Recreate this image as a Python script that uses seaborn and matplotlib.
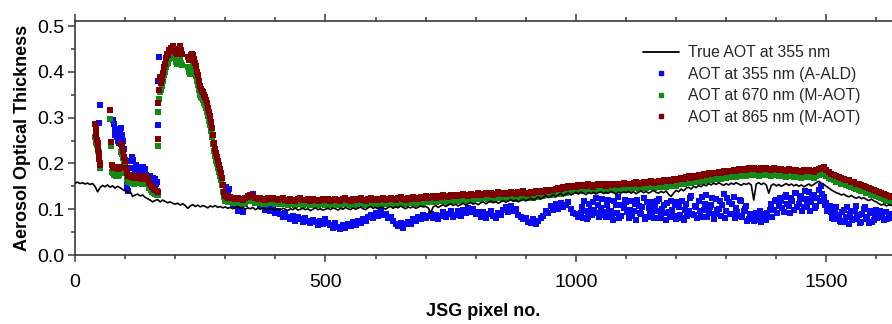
import numpy as np
import matplotlib
matplotlib.use("Agg")
import matplotlib.pyplot as plt
import seaborn as sns
from matplotlib.lines import Line2D
from matplotlib.ticker import MultipleLocator

sns.set_theme(style="ticks")
plt.rcParams["font.family"] = ["Liberation Sans", "DejaVu Sans"]

# ---------------------------------------------------------------
# True AOT at 355 nm (every 5th JSG pixel, values x1000)
# ---------------------------------------------------------------
true_x = np.arange(0, 1631, 5)
true_aot = [
    157, 159, 156, 158, 155, 157, 154, 156, 150, 138, 147, 152, 149, 153, 148, 151, 146, 150, 147, 143,
    140, 137, 139, 128, 131, 133, 129, 131, 126, 123, 120, 116, 119, 121, 116, 120, 117, 114, 116, 113,
    111, 113, 109, 112, 108, 102, 107, 110, 106, 109, 105, 108, 106, 103, 107, 105, 108, 104, 106, 103,
    105, 102, 104, 101, 103, 106, 102, 104, 100, 103, 101, 104, 99, 102, 100, 103, 101, 98, 102, 100,
    99, 101, 98, 102, 100, 97, 101, 99, 103, 98, 100, 102, 99, 101, 97, 100, 103, 99, 101, 98,
    100, 102, 99, 103, 101, 98, 102, 100, 104, 101, 99, 103, 100, 102, 105, 101, 99, 103, 106, 102,
    104, 101, 105, 103, 100, 104, 106, 102, 105, 103, 107, 104, 101, 105, 103, 106, 102, 104, 107, 105,
    106, 103, 92, 105, 108, 104, 107, 110, 106, 109, 112, 108, 111, 107, 110, 113, 109, 112, 115, 111,
    113, 110, 114, 116, 112, 115, 118, 114, 117, 113, 116, 119, 115, 118, 121, 117, 120, 116, 119, 122,
    118, 121, 124, 120, 123, 127, 122, 126, 130, 125, 128, 132, 127, 131, 135, 129, 133, 136, 131, 134,
    137, 133, 138, 135, 132, 136, 134, 137, 133, 136, 138, 134, 137, 135, 139, 136, 133, 137, 135, 138,
    136, 139, 135, 138, 134, 137, 140, 136, 139, 135, 138, 141, 137, 135, 139, 136, 140, 132, 128, 135,
    141, 138, 144, 140, 146, 148, 144, 150, 147, 152, 149, 154, 151, 156, 153, 157, 154, 158, 155, 152,
    156, 153, 157, 154, 158, 155, 152, 156, 154, 157, 153, 120, 155, 158, 154, 157, 153, 135, 152, 155,
    151, 154, 150, 153, 156, 152, 155, 151, 154, 150, 153, 149, 152, 155, 151, 154, 158, 161, 157, 154,
    150, 146, 142, 139, 136, 134, 131, 133, 129, 127, 130, 126, 124, 127, 123, 125, 121, 119, 122, 118,
    116, 112, 109, 111, 107, 110, 108,
]

# ---------------------------------------------------------------
# Plume section (pixels < 310), irregular sampling
# ---------------------------------------------------------------
ald_early_x = [
    48, 49,
    76, 78, 79, 80, 82, 83, 84, 86, 87, 88, 90, 91, 92, 94, 95, 97, 99, 100,
    101, 103, 104, 106, 108, 110, 113, 116, 118, 120, 122, 124, 126, 128, 130, 132, 134, 136, 138, 140,
    142, 144, 147, 150, 153, 156, 158, 160, 162, 164,
    165, 166, 167,
    301, 303, 305, 307, 309,
]
ald_early = [
    288, 327,
    295, 285, 272, 262, 275, 258, 268, 250, 262, 245, 270, 255, 278, 262, 248, 232, 207, 195,
    182, 160, 148, 140, 190, 205, 214, 207, 190, 184, 196, 180, 188, 193, 178, 190, 185, 192, 180, 187,
    175, 170, 165, 172, 160, 168, 158, 165, 155, 160,
    284, 381, 433,
    149, 142, 131, 145, 124,
]

mod_early_x = [
    40, 41, 42, 43, 45, 46, 47, 48, 49, 50,
    70, 72, 73, 75, 77, 79, 81, 83, 85, 87, 89, 91, 93, 95, 97, 99, 101, 103,
    106, 109, 112, 115, 118, 121, 124, 127, 130, 133, 136, 139, 142, 145, 148, 151, 154, 157, 160, 163, 166,
    165, 166, 168, 170, 172, 174, 176, 178, 180, 182, 184, 186, 188, 190, 192, 195, 198, 201, 204, 207,
    210, 212, 214,
    226, 228, 230, 232, 234, 236, 238, 240, 242, 244, 246, 248, 250, 252, 254, 256, 258, 260, 262, 264,
    266, 268, 270, 272, 274, 276, 278, 280, 282, 284, 286, 288, 290, 292, 294, 296, 298, 300, 303, 306,
]
aot865_early = [
    287, 275, 262, 251, 244, 232, 220, 210, 200, 196,
    316, 247, 196, 193, 190, 192, 189, 191, 188, 190, 192, 243, 238, 228, 215, 205, 190, 178,
    172, 175, 170, 173, 168, 172, 169, 173, 170, 167, 171, 168, 172, 166, 158, 152, 148, 145, 142, 140, 138,
    253, 331, 360, 389, 375, 385, 398, 410, 418, 430, 440, 437, 448, 445, 452, 457, 450, 442, 438, 445,
    457, 448, 440,
    433, 425, 430, 437, 440, 436, 428, 420, 412, 400, 393, 380, 368, 363, 358, 355, 350, 345, 338, 332,
    322, 312, 303, 290, 278, 262, 245, 232, 222, 213, 205, 196, 188, 180, 168, 152, 138, 128, 127, 124,
]
aot670_early = [
    258, 250, 245, 240, 236, 228, 226, 212, 198, 191,
    298, 237, 182, 178, 175, 177, 173, 176, 172, 175, 178, 225, 220, 212, 200, 190, 178, 165,
    160, 162, 158, 161, 156, 159, 157, 160, 158, 155, 159, 156, 159, 154, 147, 142, 138, 135, 133, 131, 130,
    239, 313, 340, 355, 360, 368, 380, 392, 400, 410, 418, 420, 428, 430, 435, 438, 432, 422, 418, 425,
    432, 420, 415,
    410, 400, 396, 400, 410, 412, 405, 398, 390, 380, 372, 360, 350, 346, 342, 338, 333, 328, 320, 313,
    303, 293, 283, 270, 258, 243, 228, 216, 206, 198, 190, 181, 173, 164, 152, 138, 126, 119, 118, 116,
]

# ---------------------------------------------------------------
# Background section (pixels 310 .. 1630, every 5th pixel)
# ---------------------------------------------------------------
bg_x = np.arange(310, 1631, 5)
ald_bg = [
    122, 110, 106, 96, 99, 93, 112, 128, 120, 134, 124, 117, 108, 111, 98, 105, 96, 100, 91, 95,
    89, 82, 91, 84, 78, 86, 75, 83, 79, 72, 80, 74, 69, 77, 71, 66, 74, 68, 78, 70,
    66, 60, 69, 62, 57, 65, 60, 67, 63, 71, 66, 75, 70, 79, 74, 83, 87, 81, 92, 86,
    95, 87, 90, 80, 84, 74, 68, 63, 70, 60, 67, 73, 68, 79, 75, 84, 78, 88, 80, 86,
    90, 81, 88, 79, 86, 93, 82, 90, 95, 84, 88, 97, 85, 99, 91, 103, 94, 100, 89, 93,
    84, 93, 81, 90, 96, 85, 80, 91, 88, 99, 104, 93, 106, 96, 100, 88, 84, 79, 81, 72,
    70, 78, 67, 75, 81, 86, 95, 92, 106, 98, 111, 101, 114, 104, 110, 116, 100, 92, 89, 82,
    92, 80, 95, 84, 99, 115, 124, 110, 103, 94, 83, 120, 96, 77, 109, 126, 86, 103, 116, 80,
    119, 95, 77, 108, 90, 125, 84, 102, 116, 80, 97, 122, 89, 110, 76, 94, 118, 85, 79, 104,
    81, 77, 112, 96, 128, 88, 104, 119, 83, 99, 131, 92, 110, 78, 123, 101, 86, 134, 97, 115,
    90, 126, 103, 85, 117, 96, 108, 79, 87, 75, 92, 81, 73, 89, 77, 84, 112, 98, 121, 106,
    118, 94, 130, 107, 125, 99, 136, 112, 128, 104, 122, 138, 115, 131, 108, 142, 150, 127, 113, 98,
    93, 78, 104, 86, 71, 98, 82, 67, 95, 79, 108, 88, 73, 101, 84, 70, 92, 77, 99, 83,
    89, 76, 94, 81, 87,
]
# the A-ALD cloud east of pixel 1010 has twice the retrieval density
ald_dense_x = np.arange(1012, 1628, 5)
ald_dense = [
    104, 117, 79, 112, 87, 98, 92, 83, 122, 88, 110, 96, 84, 117, 91, 80, 109, 120, 94, 99,
    86, 112, 121, 91, 104, 79, 116, 93, 84, 108, 118, 81, 101, 91, 113, 83, 98, 109, 115, 88,
    117, 99, 86, 125, 90, 107, 80, 96, 127, 112, 84, 104, 124, 89, 98, 118, 109, 81, 124, 90,
    111, 81, 94, 120, 83, 101, 74, 90, 80, 86, 77, 95, 84, 76, 92, 99, 82, 118, 91, 124,
    103, 127, 111, 92, 117, 135, 104, 123, 97, 140, 110, 95, 129, 102, 125, 118, 133, 109, 96, 106,
    80, 101, 87, 75, 94, 72, 105, 89, 76, 97, 83, 70, 90, 104, 78, 95, 73, 86, 80, 97,
    82, 93, 78, 90,
]
aot670_bg = [
    116, 114, 113, 115, 112, 111, 114, 117, 121, 118, 114, 113, 115, 112, 111, 114, 113, 115, 112, 111,
    112, 114, 111, 110, 113, 111, 109, 112, 114, 110, 111, 113, 110, 112, 110, 109, 111, 113, 110, 112,
    110, 111, 113, 110, 109, 112, 114, 111, 110, 112, 110, 113, 115, 111, 110, 112, 114, 111, 113, 110,
    112, 114, 111, 113, 115, 112, 111, 114, 116, 113, 111, 115, 113, 117, 114, 112, 116, 114, 118, 115,
    116, 118, 115, 119, 117, 120, 118, 116, 121, 119, 122, 118, 120, 123, 121, 119, 124, 120, 122, 125,
    122, 124, 126, 123, 125, 121, 124, 127, 125, 123, 126, 124, 128, 125, 123, 127, 125, 129, 126, 124,
    127, 125, 129, 127, 130, 128, 132, 130, 133, 131, 135, 137, 134, 138, 136, 140, 138, 141, 139, 142,
    140, 142, 141, 143, 141, 139, 142, 144, 141, 143, 140, 144, 142, 145, 143, 141, 144, 146, 143, 145,
    144, 146, 147, 145, 147, 148, 146, 148, 149, 147, 149, 150, 148, 151, 149, 152, 150, 153, 151, 154,
    156, 154, 158, 159, 157, 160, 159, 162, 160, 164, 162, 165, 163, 167, 165, 169, 167, 170, 168, 171,
    170, 173, 171, 174, 172, 175, 173, 176, 174, 177, 175, 173, 176, 174, 177, 175, 173, 176, 174, 172,
    175, 173, 171, 174, 172, 170, 173, 171, 169, 172, 170, 173, 171, 169, 172, 175, 177, 179, 173, 169,
    165, 163, 160, 159, 156, 155, 152, 151, 148, 147, 144, 143, 140, 139, 136, 135, 132, 131, 128, 126,
    124, 122, 119, 117, 114,
]
aot865_bg = [
    126, 124, 122, 125, 123, 121, 124, 127, 131, 128, 124, 122, 125, 123, 121, 124, 122, 125, 123, 121,
    122, 124, 121, 119, 123, 121, 118, 122, 124, 120, 121, 123, 119, 122, 120, 118, 121, 123, 120, 122,
    119, 121, 123, 120, 118, 122, 124, 121, 119, 122, 120, 123, 125, 121, 119, 122, 124, 121, 123, 120,
    122, 124, 121, 123, 125, 122, 120, 124, 126, 123, 121, 125, 123, 127, 124, 122, 126, 124, 128, 125,
    126, 128, 125, 129, 127, 130, 128, 126, 131, 129, 132, 128, 130, 133, 131, 129, 134, 130, 132, 135,
    132, 134, 136, 133, 135, 131, 134, 137, 135, 133, 136, 134, 138, 135, 133, 137, 135, 139, 136, 134,
    137, 135, 139, 137, 140, 138, 142, 140, 143, 141, 145, 147, 144, 148, 146, 150, 148, 151, 149, 152,
    150, 153, 151, 154, 152, 149, 153, 155, 152, 154, 151, 155, 153, 156, 154, 152, 155, 157, 154, 156,
    155, 157, 159, 156, 158, 160, 157, 159, 161, 158, 160, 162, 159, 163, 161, 164, 162, 165, 163, 166,
    168, 166, 170, 172, 169, 173, 171, 175, 173, 177, 175, 178, 176, 180, 178, 182, 180, 183, 181, 184,
    183, 186, 184, 187, 185, 188, 186, 189, 187, 190, 188, 186, 189, 187, 190, 188, 186, 189, 187, 185,
    188, 186, 184, 187, 185, 183, 186, 184, 182, 185, 183, 186, 184, 182, 185, 188, 190, 192, 186, 182,
    177, 175, 172, 171, 168, 167, 164, 163, 160, 159, 156, 155, 152, 151, 148, 147, 144, 143, 140, 138,
    136, 134, 131, 129, 126,
]

labels = ["True AOT at 355 nm", "AOT at 355 nm (A-ALD)",
          "AOT at 670 nm (M-AOT)", "AOT at 865 nm (M-AOT)"]
colors = ["black", "#0a0aee", "#168a16", "#800000"]

scale = 1000.0
ald_x = np.concatenate([ald_early_x, bg_x, ald_dense_x])
ald_y = np.concatenate([ald_early, ald_bg, ald_dense]) / scale
mod_x = np.concatenate([mod_early_x, bg_x])
y670 = np.concatenate([aot670_early, aot670_bg]) / scale
y865 = np.concatenate([aot865_early, aot865_bg]) / scale
true_y = np.asarray(true_aot) / scale

W, H = 892, 324
fig = plt.figure(figsize=(W / 100, H / 100), dpi=100)
ax = fig.add_axes([75 / W, 1 - 255 / H, (W - 75) / W, (255 - 21) / H])

mk = dict(marker="s", s=13, linewidth=0, ax=ax, legend=False)
sns.scatterplot(x=ald_x, y=ald_y, color=colors[1], zorder=2, **mk)
sns.scatterplot(x=mod_x, y=y670, color=colors[2], zorder=3, **mk)
sns.scatterplot(x=mod_x, y=y865, color=colors[3], zorder=4, **mk)
sns.lineplot(x=true_x, y=true_y, color=colors[0], lw=1.2, estimator=None,
             sort=False, ax=ax, zorder=5, legend=False)

ax.set_xlim(0, 1631)
ax.set_ylim(0, 0.511)
ax.xaxis.set_major_locator(MultipleLocator(500))
ax.xaxis.set_minor_locator(MultipleLocator(100))
ax.yaxis.set_major_locator(MultipleLocator(0.1))
ax.yaxis.set_minor_locator(MultipleLocator(0.05))

spine_c = "#3a3a3a"
for side in ("left", "bottom", "top"):
    ax.spines[side].set_color(spine_c)
    ax.spines[side].set_linewidth(1.2)
ax.spines["right"].set_visible(False)

ax.tick_params(which="both", direction="out", color=spine_c, width=1.1,
               top=True, bottom=True, left=True, right=False, labeltop=False)
ax.tick_params(which="major", length=5)
ax.tick_params(which="minor", length=3)
ax.tick_params(axis="x", which="major", labelsize=14, pad=8.5, labelcolor="black")
ax.tick_params(axis="y", which="major", labelsize=14, pad=2.5, labelcolor="black")

ax.set_xlabel("JSG pixel no.", fontsize=13, fontweight="bold", color="black")
ax.set_ylabel("Aerosol Optical Thickness", fontsize=13, fontweight="bold", color="black")
ax.xaxis.set_label_coords(0.5, (255 - 312) / 234)
ax.xaxis.label.set_verticalalignment("center")
ax.yaxis.set_label_coords((23 - 75) / (W - 75), 0.5)
ax.yaxis.label.set_verticalalignment("center")

handles = [
    Line2D([], [], color=colors[0], lw=1.3),
    Line2D([], [], color=colors[1], marker="s", ms=3.2, lw=0),
    Line2D([], [], color=colors[2], marker="s", ms=3.2, lw=0),
    Line2D([], [], color=colors[3], marker="s", ms=3.2, lw=0),
]
ax.legend(handles, labels, loc="upper left", frameon=False, fontsize=11.3,
          bbox_to_anchor=(643 / W, 1 - 45 / H), bbox_transform=fig.transFigure,
          borderpad=0, borderaxespad=0, handlelength=2.3, handletextpad=0.55,
          labelspacing=0.42)

fig.savefig("out.png", dpi=100)
